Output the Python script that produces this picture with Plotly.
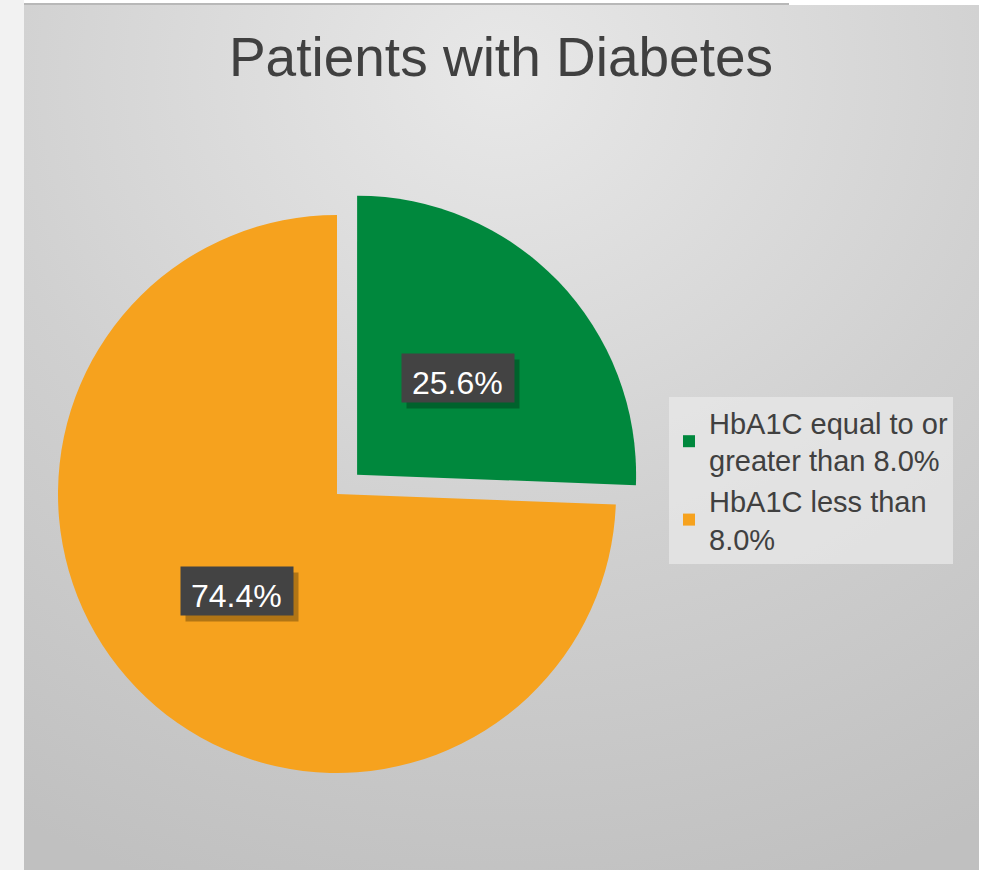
import math
import urllib.parse
import plotly.graph_objects as go

# ---- data ----
categories = ["HbA1C equal to or<br>greater than 8.0%", "HbA1C less than<br>8.0%"]
values = [25.6, 74.4]
colors = ["#00883d", "#f6a21e"]
title_text = "Patients with Diabetes"

# ---- layout constants ----
W, H = 986, 870
cx_px, cy_px, r_px = 337, 494, 279
pull = [0.1, 0.0]
half = r_px * (1 + max(pull))
dom_x = [(cx_px - half) / W, (cx_px + half) / W]
dom_y = [1 - (cy_px + half) / H, 1 - (cy_px - half) / H]

fig = go.Figure(go.Pie(
    labels=categories,
    values=values,
    marker=dict(colors=colors, line=dict(width=0)),
    pull=pull,
    sort=False,
    direction="clockwise",
    rotation=0,
    textinfo="none",
    hoverinfo="label+percent",
    domain=dict(x=dom_x, y=dom_y),
))

# label annotations placed at slice bisectors (computed from data)
total = sum(values)
annotations = []
start = 0.0
for v, p in zip(values, pull):
    frac = v / total
    mid = (start + frac / 2) * 2 * math.pi
    start += frac
    dist = r_px * (p + 0.5)
    x_px = cx_px + dist * math.sin(mid)
    y_px = cy_px - dist * math.cos(mid)
    txt = f"{frac * 100:.1f}%"
    common = dict(xref="paper", yref="paper", showarrow=False,
                  xanchor="center", yanchor="middle")
    # shadow
    annotations.append(dict(
        x=(x_px + 5) / W, y=1 - (y_px + 6) / H, text=" ", width=104, height=40,
        borderpad=4, bgcolor="rgba(0,0,0,0.28)", font=dict(size=32), **common))
    # box
    annotations.append(dict(
        x=x_px / W, y=1 - y_px / H, text=" ", width=104, height=40,
        borderpad=4, bgcolor="#434343", font=dict(size=32), **common))
    # text
    annotations.append(dict(
        x=x_px / W, y=1 - y_px / H, text=txt, yshift=-5,
        font=dict(size=32, color="white", family="Liberation Sans, Arial"), **common))

svg = (
    "<svg xmlns='http://www.w3.org/2000/svg' width='955' height='865'>"
    "<defs><radialGradient id='g' cx='0.5' cy='0.08' r='1.0' fx='0.5' fy='0.08'>"
    "<stop offset='0' stop-color='#e8e8e8'/>"
    "<stop offset='0.55' stop-color='#d0d0d0'/>"
    "<stop offset='1' stop-color='#c0c0c0'/>"
    "</radialGradient></defs>"
    "<rect width='955' height='865' fill='url(#g)'/></svg>"
)
bg_src = "data:image/svg+xml;charset=utf-8," + urllib.parse.quote(svg)

fig.update_layout(
    width=W, height=H,
    margin=dict(l=0, r=0, t=0, b=0),
    paper_bgcolor="#ffffff",
    title=dict(text=title_text, x=501 / W, xanchor="center", y=1 - 57 / H, yanchor="middle",
               xref="paper", yref="paper",
               font=dict(size=55, color="#404040", family="Liberation Sans, Arial")),
    showlegend=True,
    legend=dict(x=669 / W, y=1 - 397 / H, xanchor="left", yanchor="top",
                bgcolor="rgba(232,232,232,0.75)", borderwidth=0,
                font=dict(size=29, color="#404040", family="Liberation Sans, Arial"),
                itemwidth=30),
    images=[dict(source=bg_src, xref="paper", yref="paper", x=24 / W, y=1 - 5 / H,
                 sizex=(979 - 24) / W, sizey=(870 - 5) / H, xanchor="left", yanchor="top",
                 sizing="stretch", layer="below")],
    shapes=[
        dict(type="rect", xref="paper", yref="paper", x0=0, x1=24 / W, y0=0, y1=1,
             fillcolor="#f2f2f2", line=dict(width=0), layer="below"),
        dict(type="line", xref="paper", yref="paper", x0=24 / W, x1=789 / W,
             y0=1 - 4 / H, y1=1 - 4 / H, line=dict(color="#b8b8b8", width=2), layer="below"),
    ],
    annotations=annotations,
)

fig.write_html("out.html", config={"displayModeBar": False},
               post_script="document.body.style.margin='0';")
